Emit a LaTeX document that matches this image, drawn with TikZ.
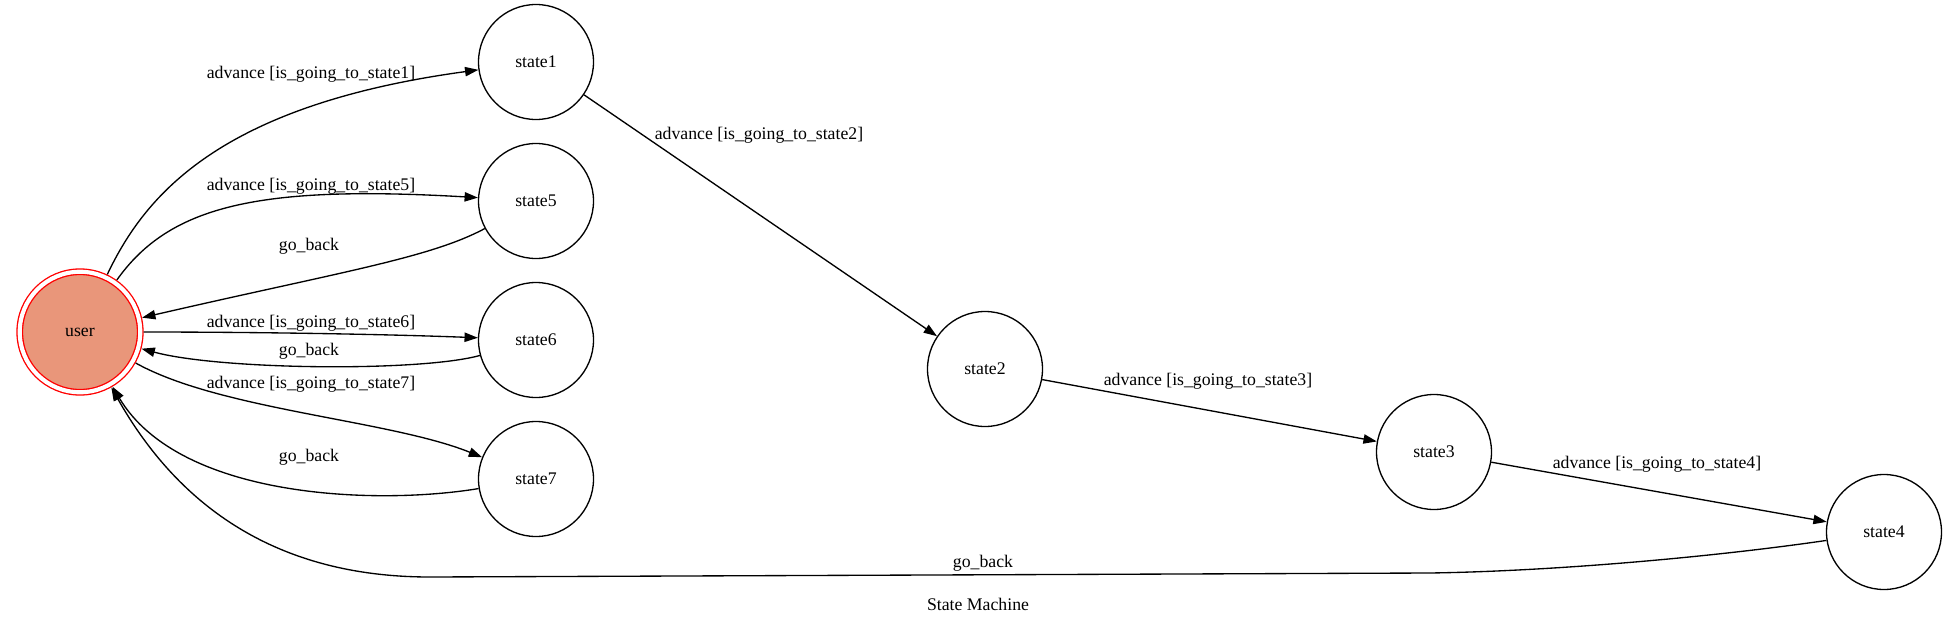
\documentclass[tikz,border=0pt]{standalone}
\usepackage{fontspec}
\setmainfont{Liberation Serif}
\usetikzlibrary{arrows.meta}
\definecolor{salmonfill}{HTML}{E9967A}
\begin{document}
\begin{tikzpicture}[x=0.75pt,y=-0.75pt,
  every node/.style={font=\fontsize{13.3}{16}\selectfont},
  state/.style={circle,draw,line width=1pt,minimum size=86.25pt,inner sep=0pt},
  userstate/.style={circle,draw=red,line width=1pt,double=white,double distance=3.1pt,fill=salmonfill,minimum size=90.4pt,inner sep=0pt,outer sep=2.6pt},
  edge/.style={line width=1pt,-{Triangle[length=10pt,width=7pt]}},
  elabel/.style={inner sep=0pt}]
\useasboundingbox (0,0) rectangle (1957,625);

\node[userstate] (user) at (80,332) {user};
\node[state] (state1) at (536,62) {state1};
\node[state] (state5) at (536,201) {state5};
\node[state] (state6) at (536,340) {state6};
\node[state] (state7) at (536,479) {state7};
\node[state] (state2) at (985,369) {state2};
\node[state] (state3) at (1434,452) {state3};
\node[state] (state4) at (1884,532) {state4};

% user -> state1
\draw[edge] (user) .. controls (145,195) and (220,105) .. (state1);
\node[elabel] (l1) at (311,74) {advance [is\_going\_to\_state1]};
% user -> state5
\draw[edge] (user) .. controls (170,205) and (260,185) .. (state5);
\node[elabel] (l5) at (311,186) {advance [is\_going\_to\_state5]};
% state5 -> user
\draw[edge] (state5) .. controls (430,258) and (340,272) .. (user);
\node[elabel] (b5) at (309,246) {go\_back};
% user -> state6
\draw[edge] (user) .. controls (250,332) and (380,334) .. (state6);
\node[elabel] (l6) at (311,323) {advance [is\_going\_to\_state6]};
% state6 -> user
\draw[edge] (state6) .. controls (420,372) and (220,370) .. (user);
\node[elabel] (b6) at (309,351) {go\_back};
% user -> state7
\draw[edge] (user) .. controls (220,410) and (390,420) .. (state7);
\node[elabel] (l7) at (311,384) {advance [is\_going\_to\_state7]};
% state7 -> user
\draw[edge] (state7) .. controls (380,505) and (180,500) .. (user);
\node[elabel] (b7) at (309,457) {go\_back};
% state1 -> state2
\draw[edge] (state1) -- (state2);
\node[elabel] (l2) at (759,135) {advance [is\_going\_to\_state2]};
% state2 -> state3
\draw[edge] (state2) -- (state3);
\node[elabel] (l3) at (1208,381) {advance [is\_going\_to\_state3]};
% state3 -> state4
\draw[edge] (state3) -- (state4);
\node[elabel] (l4) at (1657,464) {advance [is\_going\_to\_state4]};
% state4 -> user
\coordinate (w1) at (1430,573);
\coordinate (w2) at (430,577);
\draw[edge] (state4) .. controls (1720,556) and (1560,571) .. (w1) -- (w2) .. controls (270,577) and (175,500) .. (user);
\node[elabel] (b4) at (983,563) {go\_back};

\node[elabel] (title) at (978,604) {State Machine};
\end{tikzpicture}
\end{document}
